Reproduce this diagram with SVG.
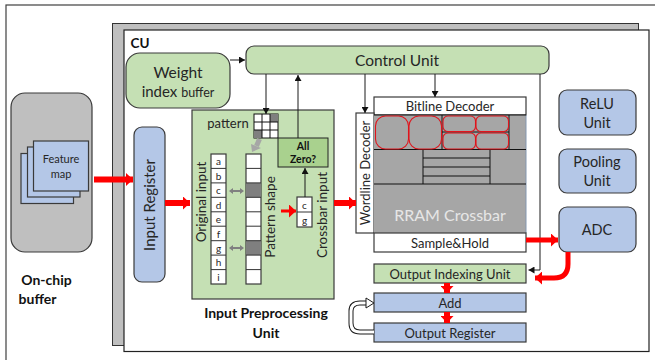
<svg xmlns="http://www.w3.org/2000/svg" width="655" height="360" viewBox="0 0 655 360">
<style>
text{font-family:Lato,"Open Sans","Liberation Sans",sans-serif;fill:#262626;text-anchor:middle}
.b{font-weight:700;fill:#111}
.s{stroke:#3a3a3a;stroke-width:1.2}
.blue{fill:#b4c7e7}
.green{fill:#c5e0b4}
.w{fill:#fff}
.l{fill:none;stroke:#1a1a1a;stroke-width:1}
.red{fill:none;stroke:#f00;stroke-width:5}
.rb{fill:none;stroke:#e0141c;stroke-width:1.1}
.g{fill:#a6a6a6;stroke:#111;stroke-width:1}
</style>
<defs>
<marker id="k" markerUnits="userSpaceOnUse" markerWidth="7" markerHeight="7" refX="6" refY="3.5" orient="auto"><path d="M0 0L6 3.5L0 7z" fill="#111"/></marker>
<marker id="r" markerUnits="userSpaceOnUse" markerWidth="8" markerHeight="13" refX="7" refY="6.500" orient="auto"><path d="M0 0L7 6.500L0 13z" fill="#f00"/></marker>
</defs>
<rect width="655" height="360" fill="#fff"/>
<rect id="frame" x="6" y="5" width="660" height="370" fill="#fff" stroke="#404040" stroke-width="1.2"/>
<rect id="cu-back" x="112.500" y="23.500" width="526" height="322" fill="#bfbfbf" stroke="#333" stroke-width="1"/>
<g id="cu"><rect x="124" y="30" width="525" height="321.500" fill="#fff" stroke="#222" stroke-width="1.2"/><text class="b" x="140" y="48" font-size="13.500">CU</text></g>
<g id="onchip">
<rect class="s" x="11" y="93" width="81" height="159" rx="14" fill="#bfbfbf"/>
<rect class="s blue" x="21" y="153.500" width="52.500" height="50"/>
<rect class="s blue" x="27.500" y="147" width="52.500" height="50"/>
<rect class="s blue" x="33.500" y="141" width="55" height="50"/>
<text x="61" y="163" font-size="11">Feature</text><text x="61" y="178" font-size="11">map</text>
<text class="b" x="46.500" y="285" font-size="14">On-chip</text><text class="b" x="37.500" y="304" font-size="14">buffer</text>
</g>
<g id="weight"><rect class="s green" x="126" y="53" width="104" height="55" rx="14"/>
<text x="178" y="78" font-size="15.500">Weight</text><text x="178" y="97" font-size="15">index <tspan font-size="12.500">buffer</tspan></text></g>
<g id="control"><rect class="s green" x="246" y="46" width="303" height="28" rx="8"/><text x="397" y="66" font-size="15.500">Control Unit</text></g>
<g id="input-register"><rect class="s blue" x="134" y="127" width="31" height="155" rx="8"/><text transform="translate(155,205) rotate(-90)" font-size="15">Input  Register</text></g>
<g id="preprocess">
<rect class="s green" x="192" y="110" width="142" height="189"/>
<text x="228" y="128" font-size="13">pattern</text>
<rect x="254" y="114" width="24" height="24" fill="#fff" stroke="#111" stroke-width="1"/>
<rect x="270" y="114" width="8" height="8" fill="#7f7f7f"/><rect x="254" y="130" width="8" height="8" fill="#7f7f7f"/>
<path d="M262 114V138M270 114V138M254 122H278M254 130H278" stroke="#111" stroke-width="1" fill="none"/>
<rect x="278" y="138" width="50" height="29" fill="#a9d18e" stroke="#222" stroke-width="1"/>
<text class="b" x="303" y="150" font-size="10.500">All</text><text class="b" x="303" y="163" font-size="10.500">Zero?</text>
<g font-size="10">
<rect class="w s" x="211" y="154" width="15" height="130"/>
<path d="M211 168.400H226M211 182.900H226M211 197.300H226M211 211.800H226M211 226.200H226M211 240.700H226M211 255.100H226M211 269.600H226" stroke="#333"/>
<text x="218.500" y="165">a</text><text x="218.500" y="180">b</text><text x="218.500" y="194">c</text><text x="218.500" y="209">d</text><text x="218.500" y="223">e</text><text x="218.500" y="238">f</text><text x="218.500" y="252">g</text><text x="218.500" y="266">h</text><text x="218.500" y="281">i</text>
<rect class="w s" x="246" y="154" width="15" height="130"/>
<rect x="246" y="182.900" width="15" height="14.400" fill="#7f7f7f"/><rect x="246" y="240.700" width="15" height="14.400" fill="#7f7f7f"/>
<path d="M246 168.400H261M246 182.900H261M246 197.300H261M246 211.800H261M246 226.200H261M246 240.700H261M246 255.100H261M246 269.600H261" stroke="#333"/>
<rect class="w s" x="297" y="197" width="15" height="30"/><path d="M297 212H312" stroke="#333"/>
<text x="304.500" y="209">c</text><text x="304.500" y="224">g</text>
</g>
<text transform="translate(206,202) rotate(-90)" font-size="13.500">Original input</text>
<text transform="translate(275,217) rotate(-90)" font-size="13.500">Pattern  shape</text>
<text transform="translate(327,215) rotate(-90)" font-size="13.500">Crossbar input</text>
<text class="b" x="266" y="318" font-size="14">Input Preprocessing</text><text class="b" x="266" y="338" font-size="14">Unit</text>
<path d="M232 191H241M232 248H241" stroke="#808080" stroke-width="2" fill="none"/>
<path d="M229 191L233 188V194zM244 191L240 188V194zM229 248L233 245V251zM244 248L240 245V251z" fill="#808080"/>
<path d="M259.500 139L256.500 146" stroke="#a6a6a6" stroke-width="5" fill="none"/><path d="M251 144L261 148L252 152z" fill="#a6a6a6"/>
</g>
<g id="crossbar">
<rect class="s w" x="374" y="97" width="152" height="18"/><text x="450" y="111" font-size="13">Bitline Decoder</text>
<rect class="s w" x="356" y="113" width="18" height="120"/><text transform="translate(370,173) rotate(-90)" font-size="13">Wordline Decoder</text>
<rect x="374" y="115" width="152" height="118" fill="#a6a6a6"/>
<path d="M526 115V233" stroke="#8497b0" stroke-width="1"/>
<path d="M374 115H526M374 149.500H526M374 184H526M442 115V149.500M509 115V149.500M442 132H509M423 149.500V184M490 149.500V184M423 158H490M423 167H490M423 176H490" stroke="#111" stroke-width="1" fill="none"/>
<rect class="rb" x="375.500" y="116" width="33" height="33" rx="10"/><rect class="rb" x="409" y="116" width="32.500" height="33" rx="10"/>
<rect class="rb" x="443" y="116" width="32.500" height="15.500" rx="5"/><rect class="rb" x="476" y="116" width="32.500" height="15.500" rx="5"/>
<rect class="rb" x="443" y="133" width="32.500" height="16" rx="5"/><rect class="rb" x="476" y="133" width="32.500" height="16" rx="5"/>
<text x="450" y="221" font-size="16" style="fill:#e7e6e6">RRAM Crossbar</text>
<rect class="s w" x="374" y="233" width="152" height="19"/><text x="450" y="248" font-size="13">Sample&amp;Hold</text>
</g>
<g id="relu"><rect class="s blue" x="559" y="90" width="77" height="45" rx="8"/><text x="597" y="109" font-size="14.500">ReLU</text><text x="597" y="128" font-size="14.500">Unit</text></g>
<g id="pooling"><rect class="s blue" x="559" y="149" width="77" height="44" rx="8"/><text x="597" y="167" font-size="14.500">Pooling</text><text x="597" y="186" font-size="14.500">Unit</text></g>
<g id="adc"><rect class="s blue" x="559" y="207" width="77" height="45" rx="8"/><text x="597" y="235" font-size="14.500">ADC</text></g>
<g id="output-index"><rect class="s green" x="374" y="264" width="152" height="19"/><text x="450" y="278.500" font-size="13">Output Indexing Unit</text></g>
<g id="add"><rect class="s blue" x="374" y="293" width="152" height="19"/><text x="450" y="308" font-size="13">Add</text></g>
<g id="output-register"><rect class="s blue" x="374" y="323" width="152" height="19"/><text x="450" y="338" font-size="13">Output Register</text></g>
<g id="connectors">
<path class="l" d="M230 60H245" marker-end="url(#k)"/>
<path class="l" d="M266 74V114" marker-end="url(#k)"/>
<path class="l" d="M298 138V75" marker-end="url(#k)"/>
<path class="l" d="M305 197V168" marker-end="url(#k)"/>
<path class="l" d="M365 74V113" marker-end="url(#k)"/>
<path class="l" d="M435 74V97" marker-end="url(#k)"/>
<path class="l" d="M540 74V270H528.500" marker-end="url(#k)"/>
<path class="red" d="M94 179.500H133" marker-end="url(#r)" style="stroke-width:6"/>
<path class="red" d="M165 203H190" marker-end="url(#r)" style="stroke-width:6"/>
<path class="red" d="M281 211H296" marker-end="url(#r)" style="stroke-width:3"/>
<path class="red" d="M334 203H356" marker-end="url(#r)" style="stroke-width:6"/>
<path class="red" d="M526 240H558" marker-end="url(#r)" style="stroke-width:5"/>
<path class="red" d="M568 252V264Q568 278 554 278H535" marker-end="url(#r)"/>
<path class="red" d="M447 283V293" marker-end="url(#r)" style="stroke-width:6"/>
<path class="red" d="M447 312V323" marker-end="url(#r)" style="stroke-width:6"/>
<path d="M374 332H360Q351 332 351 323V311Q351 303 360 303H367" fill="none" stroke="#1a1a1a" stroke-width="5"/>
<path d="M374 332H360Q351 332 351 323V311Q351 303 360 303H367" fill="none" stroke="#fff" stroke-width="3"/>
<path d="M366 298L374 303L366 308z" fill="#fff" stroke="#1a1a1a" stroke-width="1"/>
</g>
</svg>
